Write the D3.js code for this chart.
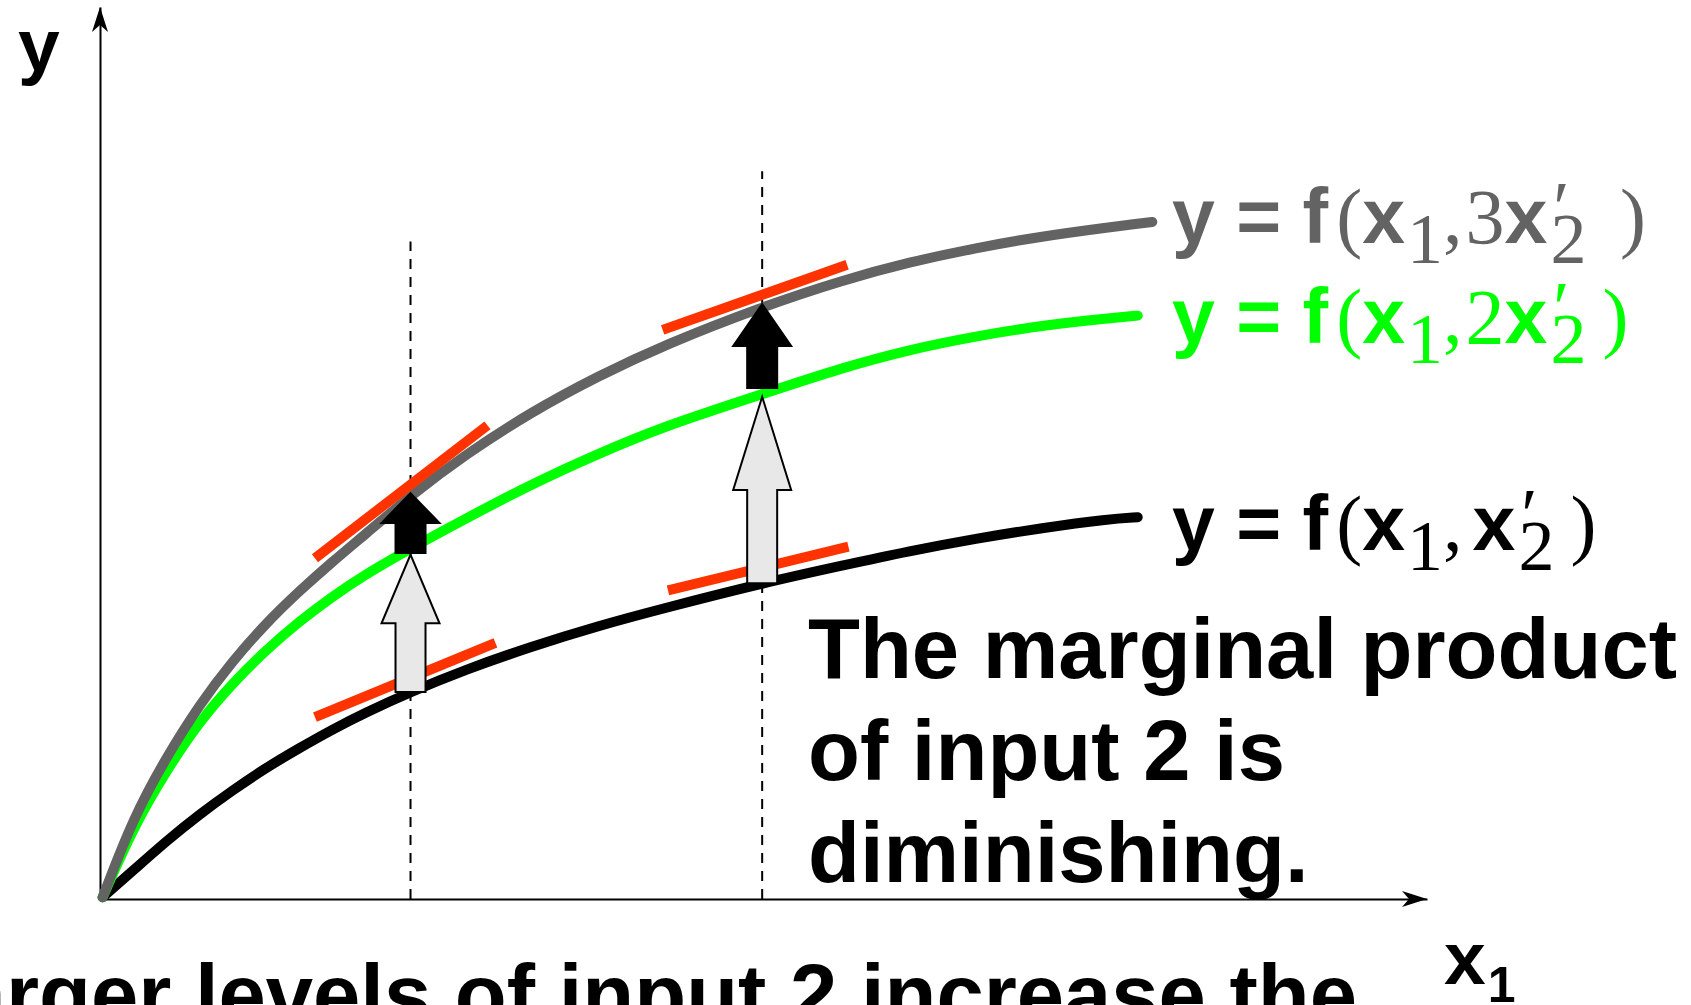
<!DOCTYPE html>
<html>
<head>
<meta charset="utf-8">
<script src="https://cdn.jsdelivr.net/npm/d3@7"></script>
<style>
  html, body { margin: 0; padding: 0; background: #fff; overflow: hidden; }
  .sans { font-family: "Liberation Sans", Arial, Helvetica, sans-serif; font-weight: bold; }
  .serif { font-family: "Liberation Serif", "Times New Roman", serif; font-weight: normal; }
</style>
</head>
<body>
<svg id="chart" width="1691" height="1005"></svg>
<script>
(function () {
    'use strict';

    var x1 = [0.2, 2.5, 5, 7.5, 10, 12.5, 15, 17.5, 20, 23.4, 27.5, 32.5, 37.5, 42.5, 49.9, 56, 61, 66, 71, 76, 78.2];
    var x1Long = x1.concat([79.3]);

    // output for x2', 2x2', 3x2'
    var yBase   = [0.2, 3.2, 6.5, 9.5, 12.2, 14.7, 16.9, 19.0, 20.9, 23.2, 25.7, 28.3, 30.6, 32.6, 35.4, 37.4, 39.0, 40.4, 41.6, 42.6, 42.8];
    var yDouble = [0.2, 8.0, 14.4, 19.9, 24.2, 27.9, 31.1, 33.9, 36.4, 39.3, 42.6, 46.5, 49.9, 53.0, 56.6, 59.6, 61.6, 63.1, 64.3, 65.1, 65.4];
    var yTriple = [0.2, 9.1, 15.9, 21.8, 26.7, 30.9, 34.5, 37.8, 40.9, 45.2, 49.8, 54.6, 58.6, 62.1, 66.4, 69.4, 71.4, 73.0, 74.3, 75.3, 75.7, 75.9];

    // the two x1 levels marked with dashed lines
    var markX = [23.4, 49.9];
    var markTop = [73.7, 81.6];

    // tangent segments [xa, ya, xb, yb]
    var tangents = [
        [16.2, 38.2, 29.2, 53.1],
        [16.2, 20.4, 29.8, 28.7],
        [42.4, 63.8, 56.3, 71.1],
        [42.8, 34.6, 56.4, 39.5]
    ];

    // shift arrows: x, from, to
    var arrowX    = [23.4, 23.4, 49.9, 49.9];
    var arrowFrom = [23.2, 38.8, 35.4, 57.3];
    var arrowTo   = [38.6, 45.5, 56.3, 66.7];

    var svg = d3.select('#chart');

    var x = d3.scaleLinear().domain([0, 100]).range([100, 1427]);
    var y = d3.scaleLinear().domain([0, 100]).range([899, 7]);

    // axes (no ticks)
    svg.append('g')
        .attr('transform', 'translate(0,' + y(0) + ')')
        .call(d3.axisBottom(x).tickValues([]).tickSizeOuter(0))
        .select('.domain').attr('stroke', '#000').attr('stroke-width', 2);
    svg.append('g')
        .attr('transform', 'translate(' + x(0) + ',0)')
        .call(d3.axisLeft(y).tickValues([]).tickSizeOuter(0))
        .select('.domain').attr('stroke', '#000').attr('stroke-width', 2);

    // arrowheads on the axes
    var ax = x(100), ay = y(0);
    svg.append('path')
        .attr('d', 'M' + ax + ',' + ay + 'L' + (ax - 25) + ',' + (ay - 8) + 'L' + (ax - 18) + ',' + ay + 'L' + (ax - 25) + ',' + (ay + 8) + 'Z')
        .attr('fill', '#000');
    var bx = x(0), by = y(100);
    svg.append('path')
        .attr('d', 'M' + bx + ',' + by + 'L' + (bx - 8) + ',' + (by + 25) + 'L' + bx + ',' + (by + 18) + 'L' + (bx + 8) + ',' + (by + 25) + 'Z')
        .attr('fill', '#000');

    // dashed verticals
    svg.selectAll('.mark')
        .data(markX).enter()
        .append('line')
        .attr('x1', function (d) { return x(d); })
        .attr('x2', function (d) { return x(d); })
        .attr('y1', y(0))
        .attr('y2', function (d, i) { return y(markTop[i]); })
        .attr('stroke', '#000')
        .attr('stroke-width', 2)
        .attr('stroke-dasharray', '10,8');

    var line = d3.line()
        .x(function (d) { return x(d[0]); })
        .y(function (d) { return y(d[1]); })
        .curve(d3.curveBasis);

    var curves = [
        { xs: x1, ys: yBase, color: '#000000' },
        { xs: x1, ys: yDouble, color: '#00ff00' },
        { xs: x1Long, ys: yTriple, color: '#636363' }
    ];
    curves.forEach(function (c) {
        svg.append('path')
            .datum(c.xs.map(function (v, i) { return [v, c.ys[i]]; }))
            .attr('d', line)
            .attr('fill', 'none')
            .attr('stroke', c.color)
            .attr('stroke-width', 10)
            .attr('stroke-linecap', 'round');
    });

    // tangents
    svg.selectAll('.tangent')
        .data(tangents).enter()
        .append('line')
        .attr('x1', function (d) { return x(d[0]); })
        .attr('y1', function (d) { return y(d[1]); })
        .attr('x2', function (d) { return x(d[2]); })
        .attr('y2', function (d) { return y(d[3]); })
        .attr('stroke', '#ff3300')
        .attr('stroke-width', 10);

    // block arrows
    svg.selectAll('.shift')
        .data(arrowX).enter()
        .append('path')
        .attr('d', function (d, i) {
            var cx = x(d), yb = y(arrowFrom[i]), yt = y(arrowTo[i]);
            var hb = yt + (yb - yt) / 2, sw = 15, hw = 29;
            return 'M' + (cx - sw) + ',' + yb + 'L' + (cx - sw) + ',' + hb + 'L' + (cx - hw) + ',' + hb +
                'L' + cx + ',' + yt + 'L' + (cx + hw) + ',' + hb + 'L' + (cx + sw) + ',' + hb +
                'L' + (cx + sw) + ',' + yb + 'Z';
        })
        .attr('fill', function (d, i) { return i % 2 ? '#000' : '#e8e8e8'; })
        .attr('stroke', '#000')
        .attr('stroke-width', 2)
        .attr('stroke-linejoin', 'miter');

    // curve labels: [text, font, dx, dy, size]
    function label(baseline, color, parts) {
        var t = svg.append('text')
            .attr('x', 1172)
            .attr('y', baseline)
            .attr('fill', color);
        parts.forEach(function (p) {
            var s = t.append('tspan')
                .attr('class', p[1])
                .style('font-size', (p[4] || (p[1] === 'sans' ? 77 : 78)) + 'px')
                .text(p[0]);
            if (p[2]) s.attr('dx', p[2]);
            if (p[3]) s.attr('dy', p[3]);
        });
    }
    var prime = ['\u2032', 'serif', 6, -10, 74];
    var sub2 = ['2', 'serif', -19, 30, 72];
    label(243, '#636363', [['y = f', 'sans'], ['(', 'serif', 8], ['x', 'sans'], ['1', 'serif', 2, 20, 72],
        [',', 'serif', 0, -20], ['3', 'serif', 3], ['x', 'sans'], prime, sub2, [' )', 'serif', 14, -20]]);
    label(343, '#00ff00', [['y = f', 'sans'], ['(', 'serif', 8], ['x', 'sans'], ['1', 'serif', 2, 20, 72],
        [',', 'serif', 0, -20], ['2', 'serif', 3], ['x', 'sans'], prime, sub2, [')', 'serif', 16, -20]]);
    label(550, '#000000', [['y = f', 'sans'], ['(', 'serif', 8], ['x', 'sans'], ['1', 'serif', 2, 20, 72],
        [',', 'serif', 0, -20], ['x', 'sans', 10], prime, sub2, [')', 'serif', 16, -20]]);

    // axis labels
    svg.append('text').attr('class', 'sans').attr('x', 18).attr('y', 71)
        .style('font-size', '75px').text('y');
    var xl = svg.append('text').attr('class', 'sans').attr('x', 1444).attr('y', 984)
        .style('font-size', '75px');
    xl.append('tspan').text('x');
    xl.append('tspan').attr('dy', 18).attr('dx', 2).style('font-size', '50px').text('1');

    // annotation
    var note = ['The marginal product', 'of input 2 is', 'diminishing.'];
    svg.selectAll('.note')
        .data(note).enter()
        .append('text')
        .attr('class', 'sans')
        .attr('x', 808)
        .attr('y', function (d, i) { return 678 + i * 102; })
        .style('font-size', '85px')
        .text(function (d) { return d; });

    svg.append('text')
        .attr('class', 'sans')
        .attr('x', 1357)
        .attr('y', 1024)
        .attr('text-anchor', 'end')
        .style('font-size', '85px')
        .text('Larger levels of input 2 increase the');
})();
</script>
</body>
</html>
